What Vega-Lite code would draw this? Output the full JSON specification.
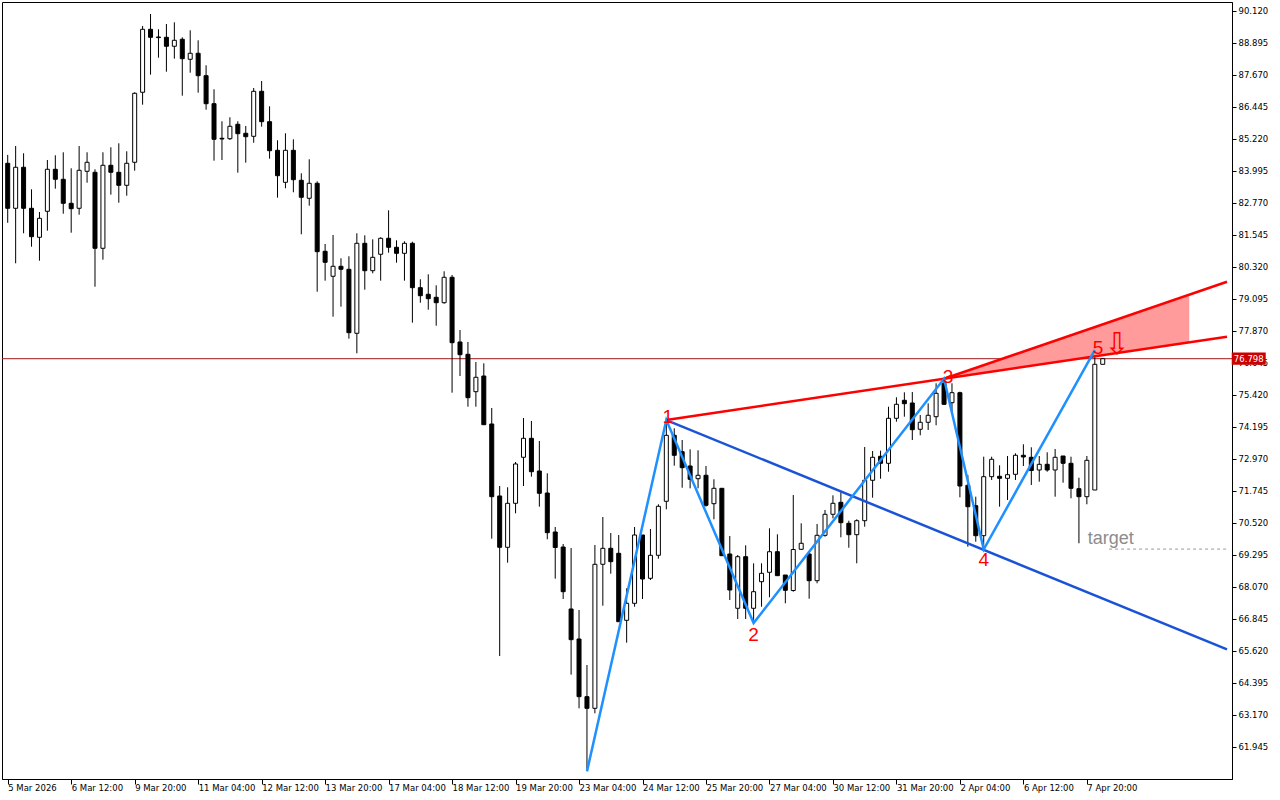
{
  "$schema": "https://vega.github.io/schema/vega-lite/v6.json",
  "autosize": "none",
  "width": 1230,
  "height": 777,
  "padding": {"left": 2, "top": 2, "right": 48, "bottom": 21},
  "background": "white",
  "config": {
    "view": {"stroke": "black", "strokeWidth": 1},
    "axis": {"labelFont": "DejaVu Sans", "labelFontSize": 8.5, "labelColor": "black", "tickColor": "black", "domainColor": "black", "grid": false, "title": null}
  },
  "resolve": {"axis": {"x": "independent", "y": "independent"}},
  "datasets": {
    "candles": [
      {"i":0,"o":84.279,"h":84.6,"l":82.0,"c":82.556},
      {"i":1,"o":82.556,"h":84.941,"l":80.451,"c":84.126},
      {"i":2,"o":84.126,"h":84.662,"l":81.599,"c":82.556},
      {"i":3,"o":82.556,"h":83.283,"l":81.086,"c":81.469},
      {"i":4,"o":81.446,"h":82.414,"l":80.550,"c":82.173},
      {"i":5,"o":82.441,"h":84.405,"l":81.699,"c":84.049},
      {"i":6,"o":84.049,"h":84.585,"l":83.306,"c":83.666},
      {"i":7,"o":83.666,"h":84.700,"l":82.349,"c":82.747},
      {"i":8,"o":82.747,"h":84.087,"l":81.622,"c":82.541},
      {"i":9,"o":82.556,"h":84.941,"l":82.311,"c":84.011},
      {"i":10,"o":83.972,"h":84.700,"l":83.536,"c":84.317},
      {"i":11,"o":83.934,"h":84.049,"l":79.555,"c":81.025},
      {"i":12,"o":81.025,"h":84.700,"l":80.588,"c":84.202},
      {"i":13,"o":84.202,"h":84.891,"l":83.077,"c":83.934},
      {"i":14,"o":83.934,"h":85.044,"l":82.770,"c":83.436},
      {"i":15,"o":83.436,"h":84.738,"l":83.038,"c":84.279},
      {"i":16,"o":84.317,"h":86.997,"l":83.995,"c":86.958},
      {"i":17,"o":86.997,"h":89.535,"l":86.522,"c":89.408},
      {"i":18,"o":89.408,"h":89.994,"l":87.670,"c":89.102},
      {"i":19,"o":89.114,"h":89.408,"l":88.321,"c":89.091},
      {"i":20,"o":89.102,"h":89.611,"l":87.785,"c":88.758},
      {"i":21,"o":88.758,"h":89.676,"l":88.283,"c":88.987},
      {"i":22,"o":89.026,"h":89.102,"l":86.867,"c":88.283},
      {"i":23,"o":88.260,"h":89.370,"l":87.747,"c":88.490},
      {"i":24,"o":88.490,"h":88.987,"l":86.981,"c":87.632},
      {"i":25,"o":87.632,"h":88.030,"l":86.331,"c":86.560},
      {"i":26,"o":86.560,"h":87.112,"l":84.378,"c":85.197},
      {"i":27,"o":85.236,"h":85.887,"l":84.405,"c":85.209},
      {"i":28,"o":85.220,"h":86.040,"l":85.171,"c":85.695},
      {"i":29,"o":85.772,"h":85.887,"l":83.919,"c":85.412},
      {"i":30,"o":85.427,"h":85.707,"l":84.302,"c":85.297},
      {"i":31,"o":85.312,"h":87.161,"l":85.067,"c":87.035},
      {"i":32,"o":87.035,"h":87.429,"l":85.680,"c":85.871},
      {"i":33,"o":85.871,"h":86.461,"l":84.455,"c":84.761},
      {"i":34,"o":84.776,"h":85.159,"l":82.962,"c":83.804},
      {"i":35,"o":83.551,"h":85.427,"l":83.322,"c":84.776},
      {"i":36,"o":84.776,"h":85.197,"l":83.169,"c":83.651},
      {"i":37,"o":83.628,"h":83.896,"l":81.561,"c":82.977},
      {"i":38,"o":82.939,"h":84.432,"l":82.656,"c":83.513},
      {"i":39,"o":83.513,"h":83.590,"l":79.363,"c":80.895},
      {"i":40,"o":80.910,"h":81.189,"l":79.785,"c":80.489},
      {"i":41,"o":79.953,"h":81.534,"l":78.406,"c":80.336},
      {"i":42,"o":80.336,"h":80.642,"l":78.789,"c":80.221},
      {"i":43,"o":80.221,"h":80.719,"l":77.564,"c":77.794},
      {"i":44,"o":77.771,"h":81.599,"l":77.005,"c":81.216},
      {"i":45,"o":81.216,"h":81.522,"l":79.440,"c":80.167},
      {"i":46,"o":80.167,"h":81.369,"l":80.068,"c":80.680},
      {"i":47,"o":80.795,"h":81.446,"l":79.785,"c":81.408},
      {"i":48,"o":81.408,"h":82.479,"l":80.856,"c":81.063},
      {"i":49,"o":81.063,"h":81.331,"l":80.474,"c":80.833},
      {"i":50,"o":80.833,"h":81.293,"l":79.785,"c":81.216},
      {"i":51,"o":81.216,"h":81.277,"l":78.177,"c":79.517},
      {"i":52,"o":79.517,"h":79.838,"l":78.942,"c":79.210},
      {"i":53,"o":79.264,"h":80.029,"l":78.674,"c":79.096},
      {"i":54,"o":79.149,"h":79.608,"l":78.062,"c":78.942},
      {"i":55,"o":78.942,"h":80.144,"l":78.904,"c":79.915},
      {"i":56,"o":79.915,"h":80.003,"l":75.497,"c":77.411},
      {"i":57,"o":77.438,"h":77.897,"l":76.136,"c":76.952},
      {"i":58,"o":76.967,"h":77.438,"l":74.961,"c":75.306},
      {"i":59,"o":75.535,"h":76.672,"l":74.961,"c":76.087},
      {"i":60,"o":76.136,"h":76.622,"l":74.272,"c":74.272},
      {"i":61,"o":74.299,"h":74.911,"l":69.908,"c":71.516},
      {"i":62,"o":71.543,"h":71.925,"l":65.418,"c":69.579},
      {"i":63,"o":69.579,"h":71.876,"l":68.989,"c":71.263},
      {"i":64,"o":71.263,"h":72.844,"l":70.880,"c":72.768},
      {"i":65,"o":73.024,"h":74.529,"l":71.925,"c":73.751},
      {"i":66,"o":73.751,"h":74.414,"l":72.282,"c":72.473},
      {"i":67,"o":72.500,"h":73.648,"l":71.133,"c":71.646},
      {"i":68,"o":71.657,"h":72.412,"l":69.885,"c":70.138},
      {"i":69,"o":70.164,"h":70.356,"l":68.377,"c":69.571},
      {"i":70,"o":69.590,"h":69.705,"l":67.600,"c":67.879},
      {"i":71,"o":67.217,"h":69.552,"l":64.702,"c":66.042},
      {"i":72,"o":66.068,"h":67.179,"l":63.415,"c":63.860},
      {"i":73,"o":63.860,"h":65.073,"l":61.100,"c":63.415},
      {"i":74,"o":63.415,"h":69.667,"l":63.224,"c":68.928},
      {"i":75,"o":68.928,"h":70.739,"l":67.343,"c":69.540},
      {"i":76,"o":69.540,"h":70.126,"l":68.568,"c":69.028},
      {"i":77,"o":69.349,"h":70.050,"l":66.731,"c":66.731},
      {"i":78,"o":66.784,"h":68.009,"l":65.927,"c":67.435},
      {"i":79,"o":67.435,"h":70.356,"l":67.305,"c":70.050},
      {"i":80,"o":70.050,"h":70.050,"l":67.600,"c":68.365},
      {"i":81,"o":68.392,"h":70.279,"l":68.327,"c":69.273},
      {"i":82,"o":69.273,"h":71.225,"l":69.142,"c":71.148},
      {"i":83,"o":71.340,"h":74.452,"l":71.033,"c":73.866},
      {"i":84,"o":73.866,"h":74.134,"l":72.703,"c":73.101},
      {"i":85,"o":73.238,"h":73.686,"l":71.860,"c":72.626},
      {"i":86,"o":72.691,"h":73.330,"l":71.837,"c":72.182},
      {"i":87,"o":72.205,"h":73.292,"l":71.837,"c":72.335},
      {"i":88,"o":72.335,"h":72.691,"l":71.133,"c":71.187},
      {"i":89,"o":71.248,"h":72.182,"l":70.651,"c":71.837},
      {"i":90,"o":71.837,"h":71.837,"l":69.257,"c":69.257},
      {"i":91,"o":69.322,"h":70.011,"l":67.561,"c":67.944},
      {"i":92,"o":67.244,"h":69.284,"l":66.834,"c":69.219},
      {"i":93,"o":69.219,"h":69.655,"l":66.834,"c":67.244},
      {"i":94,"o":67.244,"h":68.966,"l":66.719,"c":67.879},
      {"i":95,"o":68.262,"h":68.966,"l":67.305,"c":68.583},
      {"i":96,"o":68.622,"h":70.306,"l":67.665,"c":69.410},
      {"i":97,"o":69.410,"h":70.076,"l":68.492,"c":68.492},
      {"i":98,"o":68.518,"h":68.518,"l":67.435,"c":67.933},
      {"i":99,"o":67.925,"h":71.581,"l":67.879,"c":69.494},
      {"i":100,"o":69.502,"h":70.498,"l":69.475,"c":69.732},
      {"i":101,"o":69.322,"h":69.399,"l":67.611,"c":68.300},
      {"i":102,"o":68.300,"h":70.471,"l":68.201,"c":70.038},
      {"i":103,"o":70.038,"h":71.007,"l":69.985,"c":70.842},
      {"i":104,"o":70.842,"h":71.569,"l":70.689,"c":71.263},
      {"i":105,"o":71.301,"h":71.684,"l":69.962,"c":70.521},
      {"i":106,"o":70.498,"h":70.597,"l":69.563,"c":70.061},
      {"i":107,"o":70.061,"h":70.651,"l":68.966,"c":70.597},
      {"i":108,"o":70.597,"h":73.418,"l":70.367,"c":72.144},
      {"i":109,"o":72.144,"h":73.265,"l":71.477,"c":73.024},
      {"i":110,"o":73.062,"h":73.277,"l":72.205,"c":72.794},
      {"i":111,"o":72.794,"h":74.961,"l":72.473,"c":74.517},
      {"i":112,"o":74.517,"h":75.321,"l":74.387,"c":75.053},
      {"i":113,"o":75.206,"h":75.512,"l":74.578,"c":75.076},
      {"i":114,"o":75.103,"h":75.524,"l":73.686,"c":74.081},
      {"i":115,"o":74.096,"h":74.643,"l":73.866,"c":74.364},
      {"i":116,"o":74.364,"h":75.091,"l":74.069,"c":74.632},
      {"i":117,"o":74.578,"h":75.857,"l":74.249,"c":75.474},
      {"i":118,"o":75.857,"h":76.021,"l":75.026,"c":75.053},
      {"i":119,"o":75.114,"h":75.857,"l":74.709,"c":75.497},
      {"i":120,"o":75.497,"h":75.535,"l":71.493,"c":71.925},
      {"i":121,"o":71.952,"h":72.347,"l":69.602,"c":71.133},
      {"i":122,"o":71.171,"h":71.516,"l":69.793,"c":70.023},
      {"i":123,"o":70.023,"h":73.047,"l":69.609,"c":72.282},
      {"i":124,"o":72.282,"h":73.047,"l":72.155,"c":72.948},
      {"i":125,"o":72.297,"h":72.718,"l":71.133,"c":72.220},
      {"i":126,"o":72.220,"h":73.074,"l":71.389,"c":72.358},
      {"i":127,"o":72.373,"h":73.177,"l":72.155,"c":73.101},
      {"i":128,"o":73.101,"h":73.522,"l":72.691,"c":73.036},
      {"i":129,"o":73.024,"h":73.407,"l":71.964,"c":72.519},
      {"i":130,"o":72.538,"h":73.074,"l":72.090,"c":72.756},
      {"i":131,"o":72.756,"h":73.215,"l":72.473,"c":72.538},
      {"i":132,"o":72.538,"h":73.342,"l":71.516,"c":73.024},
      {"i":133,"o":73.074,"h":73.074,"l":72.052,"c":72.794},
      {"i":134,"o":72.794,"h":73.047,"l":71.455,"c":71.837},
      {"i":135,"o":71.822,"h":72.243,"l":69.732,"c":71.516},
      {"i":136,"o":71.516,"h":73.074,"l":71.225,"c":72.909},
      {"i":137,"o":71.772,"h":76.875,"l":71.772,"c":76.584},
      {"i":138,"o":76.584,"h":76.814,"l":76.584,"c":76.798}
    ],
    "trend": [
      {"seg":"lower","i":83,"p":74.45},
      {"seg":"lower","i":153.66,"p":77.64},
      {"seg":"upper","i":118,"p":76.03},
      {"seg":"upper","i":153.66,"p":79.746},
      {"seg":"support","i":83,"p":74.45},
      {"seg":"support","i":153.66,"p":65.67}
    ],
    "wave": [
      {"i":73,"p":61.0},
      {"i":83,"p":74.45},
      {"i":94,"p":66.68},
      {"i":118,"p":76.03},
      {"i":123,"p":69.5},
      {"i":137,"p":77.13}
    ],
    "zone": [
      {"i":118,"top":76.03,"bot":76.03},
      {"i":148.9,"top":79.2,"bot":77.425}
    ],
    "labels": [
      {"i":83.2,"p":74.57,"t":"1"},
      {"i":94,"p":66.22,"t":"2"},
      {"i":118.5,"p":76.10,"t":"3"},
      {"i":123,"p":69.09,"t":"4"},
      {"i":137.4,"p":77.21,"t":"5"}
    ]
  },
  "layer": [
    {
      "data": {"values": [{"p": 76.798}]},
      "mark": {"type": "rule", "color": "#a01818", "strokeWidth": 1},
      "encoding": {
        "y": {"field": "p", "type": "quantitative", "scale": {"domain": [60.709, 90.453], "nice": false, "zero": false},
          "axis": {"orient": "right", "values": [61.945,63.17,64.395,65.62,66.845,68.07,69.295,70.52,71.745,72.97,74.195,75.42,76.645,77.87,79.095,80.32,81.545,82.77,83.995,85.22,86.445,87.67,88.895,90.12],
            "format": ".3f", "tickSize": 4, "labelPadding": 2, "labelBound": false, "labelOverlap": false}}
      }
    },
    {
      "data": {"name": "zone"},
      "mark": {"type": "area", "color": "#ff9b9b", "opacity": 1},
      "encoding": {
        "x": {"field": "i", "type": "quantitative", "scale": {"domain": [-0.09, 153.66], "nice": false, "zero": false},
          "axis": {"values": [0,8,16,24,32,40,48,56,64,72,80,88,96,104,112,120,128,136],
            "labelExpr": "['5 Mar 2026','6 Mar 12:00','9 Mar 20:00','11 Mar 04:00','12 Mar 12:00','13 Mar 20:00','17 Mar 04:00','18 Mar 12:00','19 Mar 20:00','23 Mar 04:00','24 Mar 12:00','25 Mar 20:00','27 Mar 04:00','30 Mar 12:00','31 Mar 20:00','2 Apr 04:00','6 Apr 12:00','7 Apr 20:00'][round(datum.value/8)]",
            "labelAlign": "left", "labelDx": 0, "tickSize": 5, "labelPadding": -1, "labelOverlap": false, "labelFlush": false, "labelBound": false}},
        "y": {"field": "top", "type": "quantitative", "axis": null},
        "y2": {"field": "bot"}
      }
    },
    {
      "data": {"name": "candles"},
      "mark": {"type": "rule", "color": "black", "strokeWidth": 1},
      "encoding": {
        "x": {"field": "i", "type": "quantitative", "axis": null},
        "y": {"field": "l", "type": "quantitative", "axis": null},
        "y2": {"field": "h"}
      }
    },
    {
      "data": {"name": "candles"},
      "mark": {"type": "bar", "size": 4, "stroke": "black", "strokeWidth": 1},
      "encoding": {
        "x": {"field": "i", "type": "quantitative", "axis": null},
        "y": {"field": "o", "type": "quantitative", "axis": null},
        "y2": {"field": "c"},
        "fill": {"condition": {"test": "datum.c < datum.o", "value": "black"}, "value": "white"}
      }
    },
    {
      "data": {"name": "trend"},
      "mark": {"type": "line", "strokeWidth": 2.5},
      "encoding": {
        "x": {"field": "i", "type": "quantitative", "axis": null},
        "y": {"field": "p", "type": "quantitative", "axis": null},
        "color": {"field": "seg", "type": "nominal", "legend": null,
          "scale": {"domain": ["lower", "upper", "support"], "range": ["#ff0000", "#ff0000", "#1a53d6"]}}
      }
    },
    {
      "data": {"name": "wave"},
      "mark": {"type": "line", "strokeWidth": 2.5, "color": "#1e90ff"},
      "encoding": {
        "x": {"field": "i", "type": "quantitative", "axis": null},
        "y": {"field": "p", "type": "quantitative", "axis": null}
      }
    },
    {
      "data": {"name": "labels"},
      "mark": {"type": "text", "color": "#ff0000", "font": "Liberation Sans", "fontSize": 19, "align": "center", "baseline": "middle"},
      "encoding": {
        "x": {"field": "i", "type": "quantitative", "axis": null},
        "y": {"field": "p", "type": "quantitative", "axis": null},
        "text": {"field": "t"}
      }
    },
    {
      "data": {"values": [{"i": 139.8, "p": 77.32, "t": "⇩"}]},
      "mark": {"type": "text", "color": "#ff0000", "font": "DejaVu Sans", "fontSize": 30, "align": "center", "baseline": "middle"},
      "encoding": {
        "x": {"field": "i", "type": "quantitative", "axis": null},
        "y": {"field": "p", "type": "quantitative", "axis": null},
        "text": {"field": "t"}
      }
    },
    {
      "data": {"values": [{"i": 136.1, "p": 69.9, "t": "target"}]},
      "mark": {"type": "text", "color": "#8c8c8c", "font": "Liberation Sans", "fontSize": 18, "align": "left", "baseline": "middle"},
      "encoding": {
        "x": {"field": "i", "type": "quantitative", "axis": null},
        "y": {"field": "p", "type": "quantitative", "axis": null},
        "text": {"field": "t"}
      }
    },
    {
      "data": {"values": [{"i1": 138.8, "i2": 153.66, "p": 69.51}]},
      "mark": {"type": "rule", "color": "#999999", "strokeWidth": 1, "strokeDash": [3, 3]},
      "encoding": {
        "x": {"field": "i1", "type": "quantitative", "axis": null},
        "x2": {"field": "i2"},
        "y": {"field": "p", "type": "quantitative", "axis": null}
      }
    },
    {
      "data": {"values": [{"i": 156.4, "p": 76.798}]},
      "mark": {"type": "point", "shape": "M-1,-0.36H1V0.36H-1Z", "size": 1156, "filled": true, "color": "#cc0000", "opacity": 1},
      "encoding": {
        "x": {"field": "i", "type": "quantitative", "axis": null},
        "y": {"field": "p", "type": "quantitative", "axis": null}
      }
    },
    {
      "data": {"values": [{"i": 156.4, "p": 76.798, "t": "76.798"}]},
      "mark": {"type": "text", "color": "white", "font": "DejaVu Sans", "fontSize": 8.5, "align": "center", "baseline": "middle"},
      "encoding": {
        "x": {"field": "i", "type": "quantitative", "axis": null},
        "y": {"field": "p", "type": "quantitative", "axis": null},
        "text": {"field": "t"}
      }
    }
  ]
}
